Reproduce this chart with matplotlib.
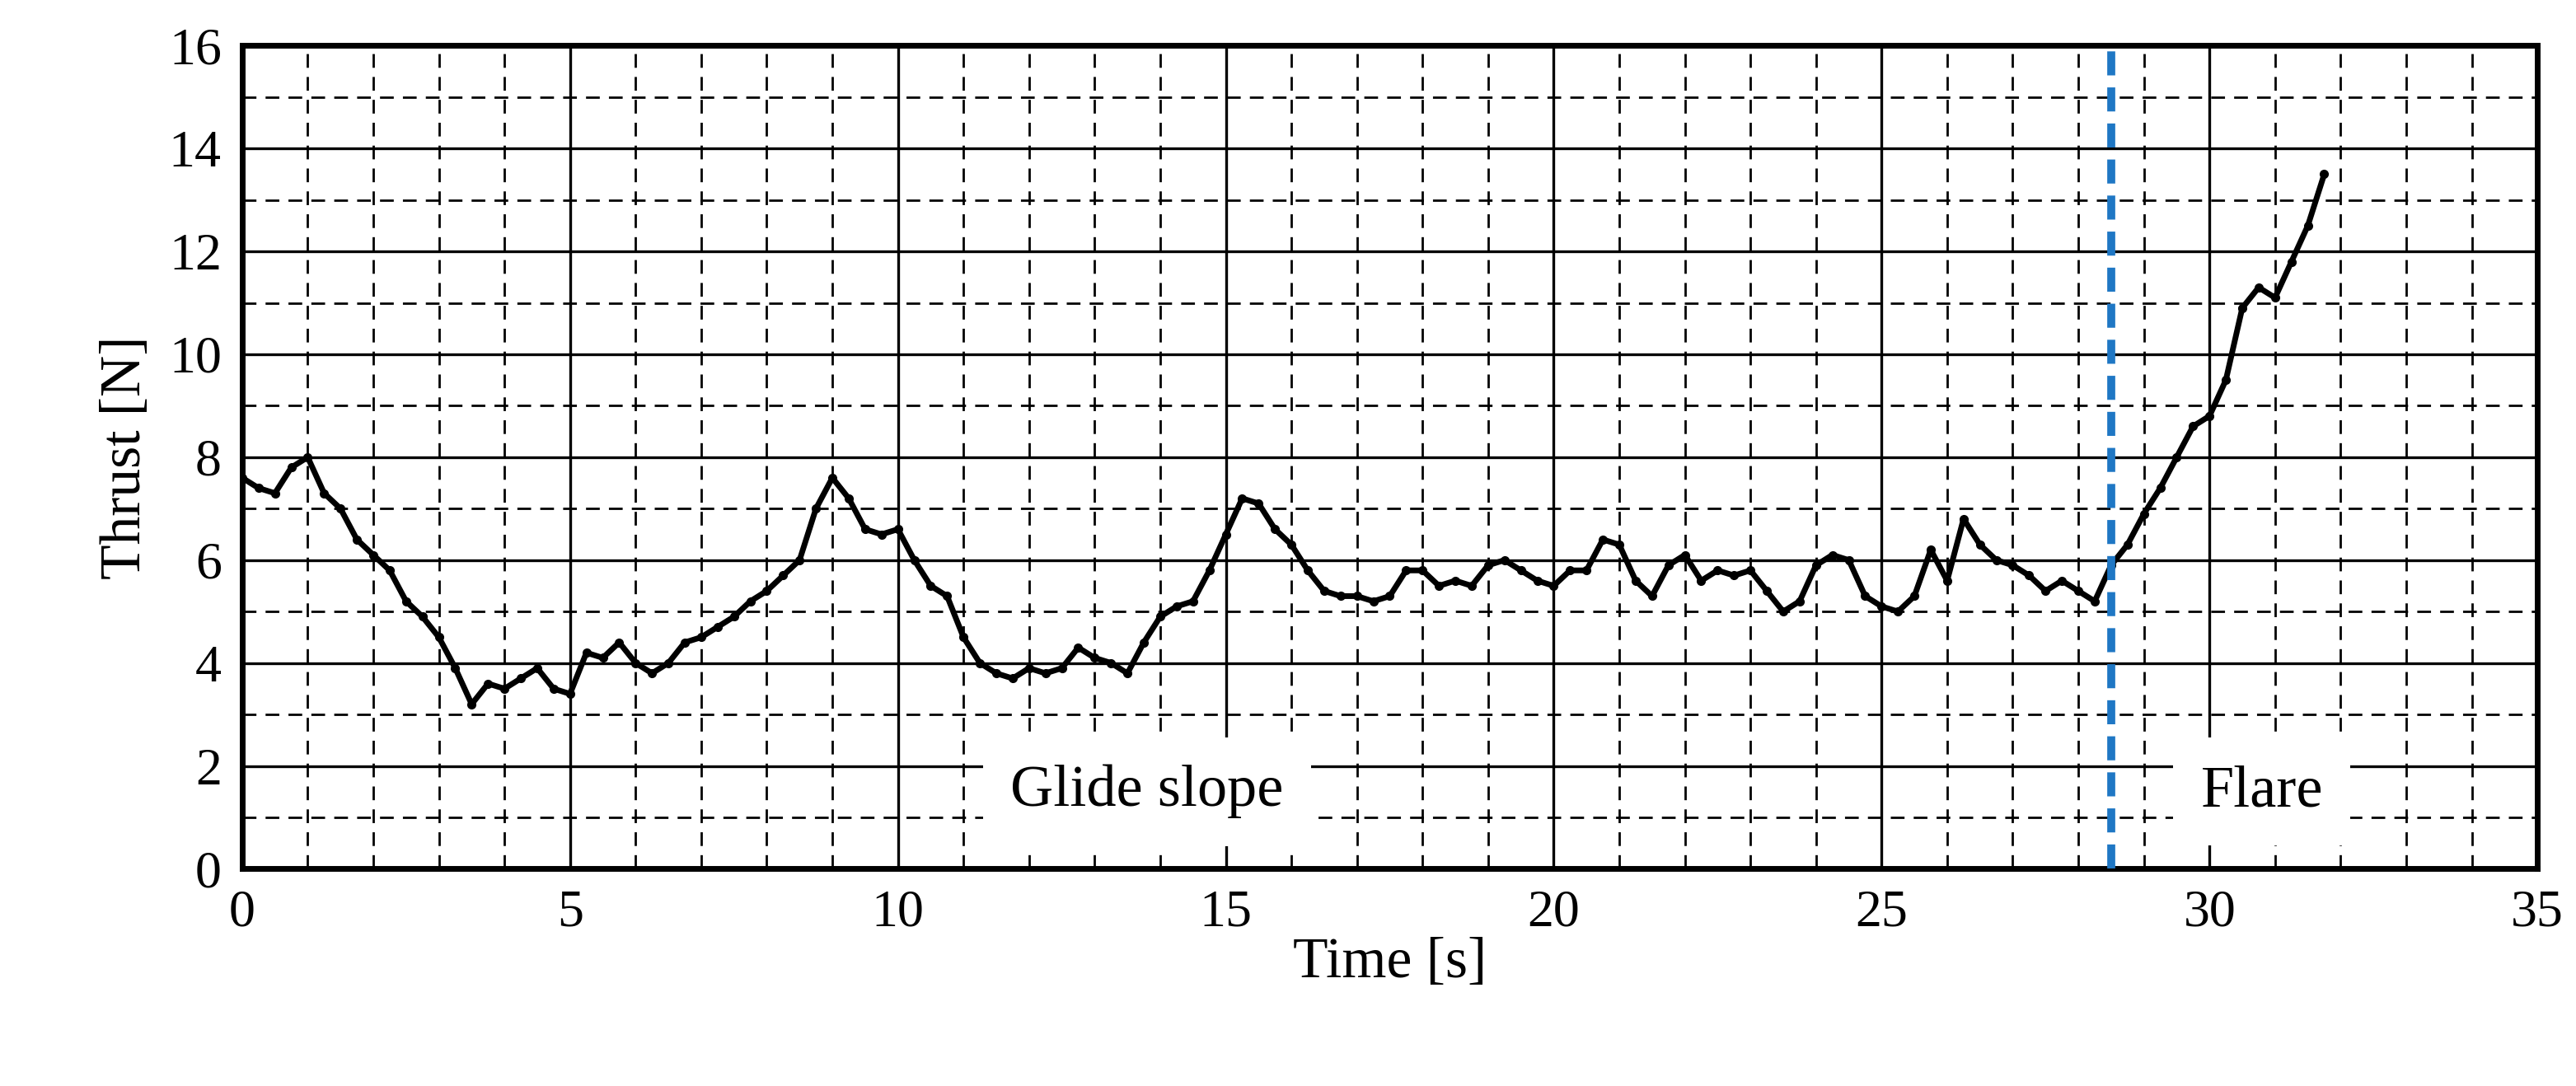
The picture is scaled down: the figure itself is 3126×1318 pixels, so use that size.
import matplotlib
matplotlib.use("Agg")
import matplotlib.pyplot as plt
import numpy as np

time_s = np.arange(0, 32.0, 0.25)
thrust_n = [7.6,7.4,7.3,7.8,8.0,7.3,7.0,6.4,6.1,5.8,5.2,4.9,4.5,3.9,3.2,3.6,3.5,3.7,3.9,3.5,
            3.4,4.2,4.1,4.4,4.0,3.8,4.0,4.4,4.5,4.7,4.9,5.2,5.4,5.7,6.0,7.0,7.6,7.2,6.6,6.5,
            6.6,6.0,5.5,5.3,4.5,4.0,3.8,3.7,3.9,3.8,3.9,4.3,4.1,4.0,3.8,4.4,4.9,5.1,5.2,5.8,
            6.5,7.2,7.1,6.6,6.3,5.8,5.4,5.3,5.3,5.2,5.3,5.8,5.8,5.5,5.6,5.5,5.9,6.0,5.8,5.6,
            5.5,5.8,5.8,6.4,6.3,5.6,5.3,5.9,6.1,5.6,5.8,5.7,5.8,5.4,5.0,5.2,5.9,6.1,6.0,5.3,
            5.1,5.0,5.3,6.2,5.6,6.8,6.3,6.0,5.9,5.7,5.4,5.6,5.4,5.2,5.9,6.3,6.9,7.4,8.0,8.6,
            8.8,9.5,10.9,11.3,11.1,11.8,12.5,13.5]
phase_labels = ["Glide slope", "Flare"]
flare_start = 28.5

plt.rcParams['font.family'] = ['Liberation Serif', 'DejaVu Serif']
fig = plt.figure(figsize=(31.26, 13.18), dpi=100)
ax = fig.add_axes([0.094, 0.2, 0.891, 0.758])
ax.set_xlim(0, 35); ax.set_ylim(0, 16)
ax.set_xticks(range(0, 36, 5)); ax.set_yticks(range(0, 17, 2))
ax.set_xticks(range(0, 36, 1), minor=True); ax.set_yticks(range(0, 17, 1), minor=True)
ax.grid(which='minor', color='black', linestyle=(0, (6, 4)), linewidth=2)
ax.grid(which='major', color='black', linestyle='-', linewidth=2.4)
ax.tick_params(which='minor', length=0)
ax.tick_params(which='major', labelsize=46, length=0, pad=18)
for s in ax.spines.values():
    s.set_linewidth(5)
ax.set_axisbelow(True)
ax.plot(time_s[:len(thrust_n)], thrust_n, color='black', lw=5, marker='o', ms=7, zorder=3)
ax.axvline(flare_start, color='#1f77c4', lw=7, linestyle=(0, (3, 1.5)), zorder=4)
box = dict(facecolor='white', edgecolor='none', pad=24)
ax.text(13.8, 1.5, phase_labels[0], fontsize=52, ha='center', va='center', bbox=box, zorder=5)
ax.text(30.8, 1.5, phase_labels[1], fontsize=52, ha='center', va='center', bbox=box, zorder=5)
ax.set_xlabel("Time [s]", fontsize=50, labelpad=0)
ax.set_ylabel("Thrust [N]", fontsize=50, labelpad=14)
fig.savefig("out.png", dpi=100)
